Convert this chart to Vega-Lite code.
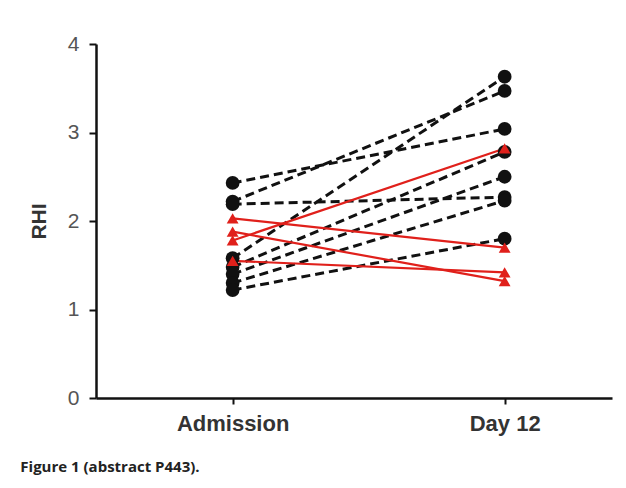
{
  "$schema": "https://vega.github.io/schema/vega-lite/v6.json",
  "width": 516,
  "height": 354,
  "autosize": {"type": "none"},
  "padding": {"left": 96, "top": 44, "right": 14, "bottom": 90},
  "background": "white",
  "title": {
    "text": "Figure 1 (abstract P443).",
    "orient": "bottom",
    "anchor": "start",
    "frame": "bounds",
    "font": "Open Sans",
    "fontWeight": "bold",
    "fontSize": 15,
    "color": "#222",
    "offset": 26,
    "dx": -8
  },
  "data": {
    "values": [
      {"id": "b1", "group": "black", "time": "Admission", "rhi": 2.43},
      {"id": "b1", "group": "black", "time": "Day 12", "rhi": 3.04},
      {"id": "b2", "group": "black", "time": "Admission", "rhi": 2.22},
      {"id": "b2", "group": "black", "time": "Day 12", "rhi": 3.47},
      {"id": "b3", "group": "black", "time": "Admission", "rhi": 2.19},
      {"id": "b3", "group": "black", "time": "Day 12", "rhi": 2.27},
      {"id": "b4", "group": "black", "time": "Admission", "rhi": 1.58},
      {"id": "b4", "group": "black", "time": "Day 12", "rhi": 3.63},
      {"id": "b5", "group": "black", "time": "Admission", "rhi": 1.48},
      {"id": "b5", "group": "black", "time": "Day 12", "rhi": 2.78},
      {"id": "b6", "group": "black", "time": "Admission", "rhi": 1.4},
      {"id": "b6", "group": "black", "time": "Day 12", "rhi": 2.5},
      {"id": "b7", "group": "black", "time": "Admission", "rhi": 1.3},
      {"id": "b7", "group": "black", "time": "Day 12", "rhi": 2.23},
      {"id": "b8", "group": "black", "time": "Admission", "rhi": 1.22},
      {"id": "b8", "group": "black", "time": "Day 12", "rhi": 1.8},
      {"id": "r1", "group": "red", "time": "Admission", "rhi": 1.78},
      {"id": "r1", "group": "red", "time": "Day 12", "rhi": 2.82},
      {"id": "r2", "group": "red", "time": "Admission", "rhi": 2.03},
      {"id": "r2", "group": "red", "time": "Day 12", "rhi": 1.7},
      {"id": "r3", "group": "red", "time": "Admission", "rhi": 1.88},
      {"id": "r3", "group": "red", "time": "Day 12", "rhi": 1.32},
      {"id": "r4", "group": "red", "time": "Admission", "rhi": 1.55},
      {"id": "r4", "group": "red", "time": "Day 12", "rhi": 1.42}
    ]
  },
  "encoding": {
    "x": {
      "field": "time",
      "type": "nominal",
      "scale": {"type": "point", "padding": 0.4485, "align": 0.56},
      "axis": {
        "title": null,
        "labelAngle": 0,
        "labelFont": "Liberation Sans",
        "labelFontWeight": "bold",
        "labelFontSize": 22,
        "labelColor": "#333",
        "labelPadding": 9,
        "domainColor": "#111",
        "domainWidth": 2.5,
        "tickColor": "#111",
        "tickWidth": 2,
        "tickSize": 6,
        "grid": false
      }
    },
    "y": {
      "field": "rhi",
      "type": "quantitative",
      "scale": {"domain": [0, 4], "nice": false},
      "axis": {
        "title": "RHI",
        "values": [0, 1, 2, 3, 4],
        "titleFont": "Liberation Sans",
        "titleFontWeight": "bold",
        "titleFontSize": 21,
        "titleColor": "#333",
        "titlePadding": 18,
        "labelFont": "Liberation Sans",
        "labelFontSize": 21,
        "labelColor": "#555",
        "labelPadding": 10,
        "domainColor": "#111",
        "domainWidth": 2.5,
        "tickColor": "#111",
        "tickWidth": 2,
        "tickSize": 7,
        "grid": false
      }
    }
  },
  "layer": [
    {
      "transform": [{"filter": "datum.group === 'black'"}],
      "mark": {"type": "line", "color": "#111", "strokeWidth": 3, "strokeDash": [9, 5]},
      "encoding": {"detail": {"field": "id"}}
    },
    {
      "transform": [{"filter": "datum.group === 'red'"}],
      "mark": {"type": "line", "color": "#e0201b", "strokeWidth": 2.2},
      "encoding": {"detail": {"field": "id"}}
    },
    {
      "transform": [{"filter": "datum.group === 'black'"}],
      "mark": {"type": "point", "shape": "circle", "filled": true, "color": "#111", "size": 190, "opacity": 1}
    },
    {
      "transform": [{"filter": "datum.group === 'red'"}],
      "mark": {"type": "point", "shape": "triangle-up", "filled": true, "color": "#e0201b", "size": 140, "opacity": 1}
    }
  ],
  "config": {"view": {"stroke": null}}
}
